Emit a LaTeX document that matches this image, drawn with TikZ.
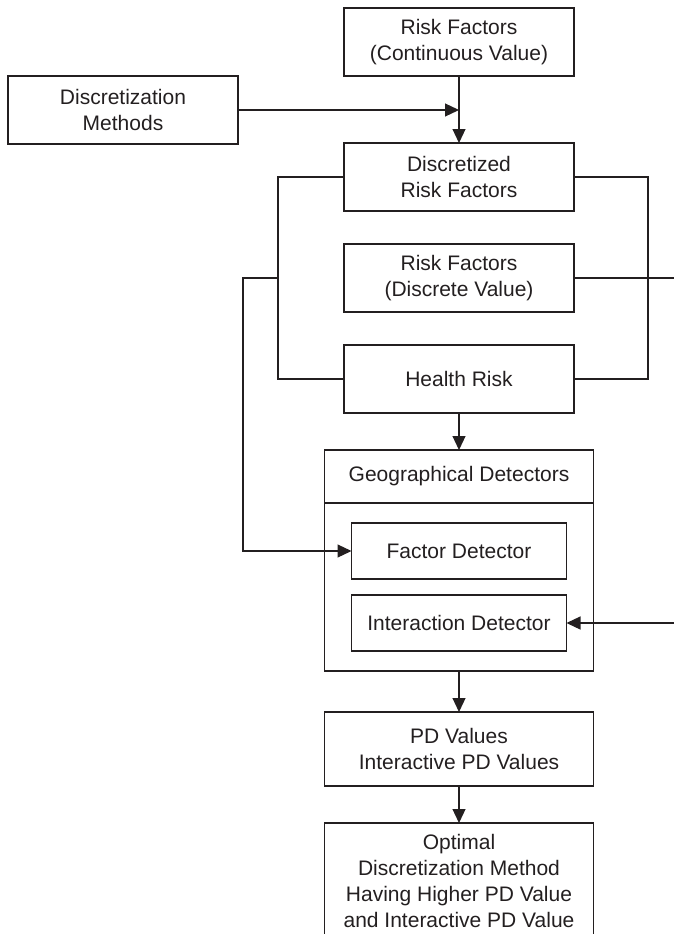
\documentclass[tikz,border=0pt]{standalone}
\usepackage{fontspec}
\setmainfont{Liberation Sans}
\usetikzlibrary{positioning,arrows.meta}
\definecolor{ink}{RGB}{35,31,32}
\tikzset{
  box/.style={draw=ink,text=ink,line width=1.2pt,outer sep=0pt,inner sep=0pt,align=center,
    minimum width=230pt,minimum height=68pt,font=\fontsize{21}{26}\selectfont},
  wide/.style={box,minimum width=269pt},
  det/.style={box,minimum width=215pt,minimum height=56pt},
  link/.style={draw=ink,line width=1.2pt},
  arr/.style={link,-{Triangle[length=14pt,width=13pt]}}
}

\begin{document}
\begin{tikzpicture}[x=1pt,y=1pt]
    % Page frame, the side lines run off it
    \useasboundingbox (0,0) rectangle (674,-934);
    \clip (0,0) rectangle (674,-934);

    % Define the main column
    \node [box] (rfc) at (459,-42) {Risk Factors\\(Continuous Value)};
    \node [box, below left=0pt and 106pt of rfc] (dm) {Discretization\\Methods};
    \node [box, below=67pt of rfc] (drf) {Discretized\\Risk Factors};
    \node [box, below=33pt of drf] (rfd) {Risk Factors\\(Discrete Value)};
    \node [box, below=33pt of rfd] (hr) {Health Risk};

    % Geographical detectors block
    \node [wide, minimum height=53pt, below=37pt of hr] (gd) {Geographical Detectors};
    \node [wide, minimum height=168pt, below=0pt of gd] (gdb) {};
    \node [det, below=20pt of gd] (fd) {Factor Detector};
    \node [det, below=16pt of fd] (id) {Interaction Detector};

    \node [wide, minimum height=74pt, below=41pt of gdb] (pd) {PD Values\\Interactive PD Values};
    \node [wide, minimum height=0pt, inner ysep=11pt, below=37pt of pd] (opt)
      {Optimal\\Discretization Method\\Having Higher PD Value\\and Interactive PD Value};

    % Helper points of the side lines
    \coordinate (join) at (rfc.south |- dm.east);
    \coordinate [left=66pt of drf.west] (lbus);
    \coordinate [right=74pt of drf.east] (rbus);
    \coordinate (ltap) at (lbus |- rfd.east);
    \coordinate [left=35pt of ltap] (lfar);
    \coordinate [right=130pt of rfd.east] (rfar);

    % Draw the connectors
    \draw [arr] (dm) -- (join);
    \draw [arr] (rfc) -- (drf);
    \draw [link] (drf.west) -- (lbus) |- (hr.west);
    \draw [link] (drf.east) -- (rbus) |- (hr.east);
    \draw [arr] (ltap) -- (lfar) |- (fd.west);
    \draw [arr] (rfd.east) -- (rfar) |- (id.east);
    \draw [arr] (hr) -- (gd);
    \draw [arr] (gdb) -- (pd);
    \draw [arr] (pd) -- (opt);
\end{tikzpicture}
\end{document}
